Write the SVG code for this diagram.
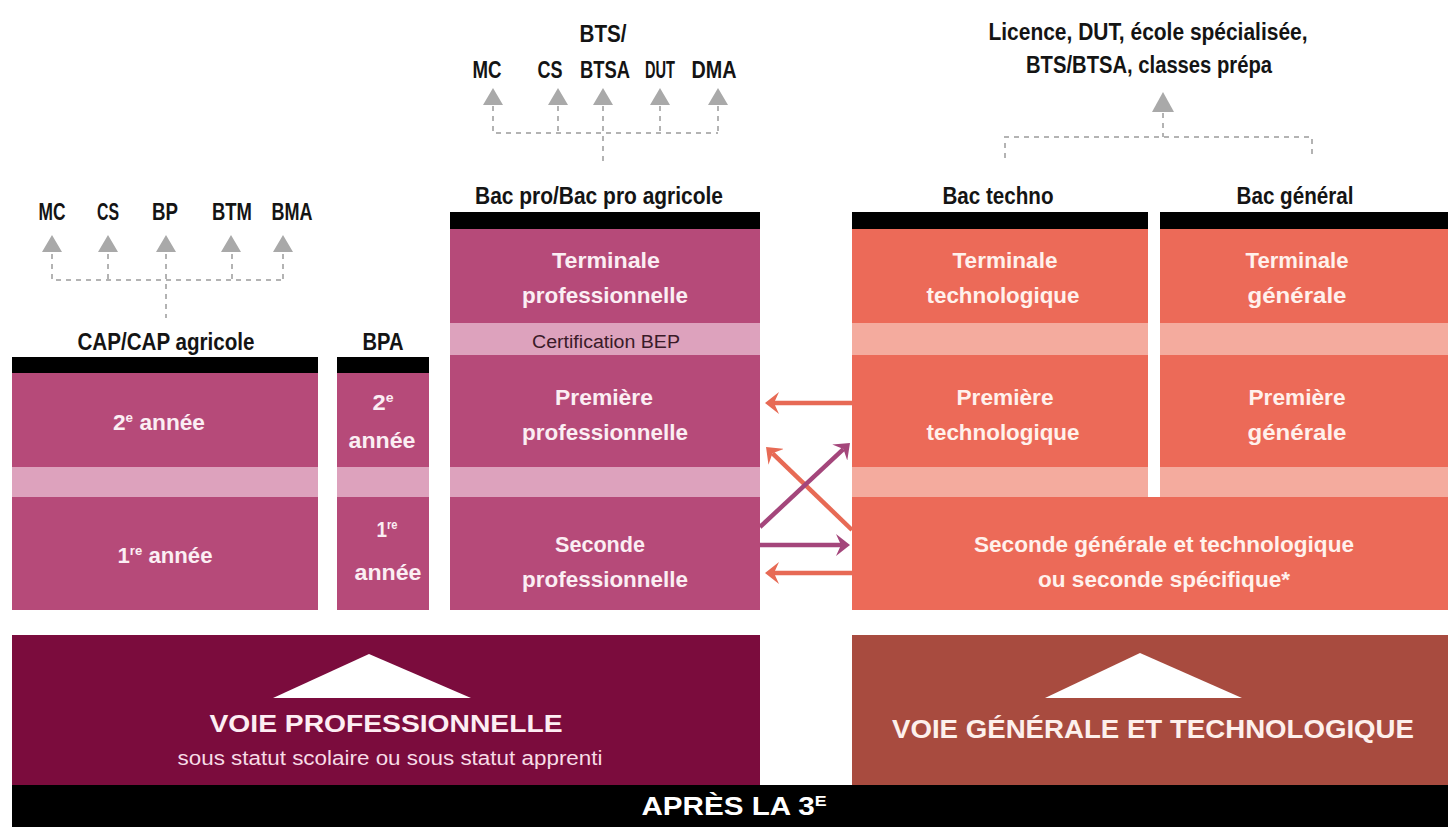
<svg xmlns="http://www.w3.org/2000/svg" width="1448" height="827" viewBox="0 0 1448 827">
<style>
  .t{font-family:"Liberation Sans",Arial,sans-serif;font-weight:bold;text-anchor:middle}
  .n{font-weight:normal}
  .lbl{font-size:23px;fill:#141414}
  .wp{font-size:22px;fill:#fbeef3}
  .wc{font-size:22px;fill:#fff1ec}
  .pink{fill:#b64a79}
  .pband{fill:#dda2bd}
  .coral{fill:#ec6a58}
  .cband{fill:#f4ab9e}
  .bar{fill:#000}
  .dot{fill:none;stroke:#b3b3b3;stroke-width:2;stroke-dasharray:5 5}
  .tri{fill:#a9a9a9}
  .ao{stroke:#e76a55;stroke-width:4.5;fill:none}
  .ap{stroke:#a4467b;stroke-width:4.5;fill:none}
</style>
<defs>
  <marker id="hO" viewBox="0 0 14 22" refX="5" refY="11" markerWidth="14" markerHeight="22" markerUnits="userSpaceOnUse" orient="auto">
    <path d="M0,0 L14,11 L0,22 L5,11 z" fill="#e76a55"/>
  </marker>
  <marker id="hP" viewBox="0 0 14 22" refX="5" refY="11" markerWidth="14" markerHeight="22" markerUnits="userSpaceOnUse" orient="auto">
    <path d="M0,0 L14,11 L0,22 L5,11 z" fill="#a4467b"/>
  </marker>
</defs>
<rect width="1448" height="827" fill="#fff"/>

<!-- Outcomes after CAP -->
<g id="out-cap">
  <text class="t lbl" x="52" y="220" textLength="27" lengthAdjust="spacingAndGlyphs">MC</text>
  <text class="t lbl" x="108" y="220" textLength="22" lengthAdjust="spacingAndGlyphs">CS</text>
  <text class="t lbl" x="165" y="220" textLength="26" lengthAdjust="spacingAndGlyphs">BP</text>
  <text class="t lbl" x="232" y="220" textLength="40" lengthAdjust="spacingAndGlyphs">BTM</text>
  <text class="t lbl" x="292" y="220" textLength="41" lengthAdjust="spacingAndGlyphs">BMA</text>
</g>
<!-- Outcomes after Bac pro -->
<g id="out-bacpro">
  <text class="t lbl" x="603" y="42" textLength="47" lengthAdjust="spacingAndGlyphs">BTS/</text>
  <text class="t lbl" x="487" y="78" textLength="29" lengthAdjust="spacingAndGlyphs">MC</text>
  <text class="t lbl" x="550" y="78" textLength="25" lengthAdjust="spacingAndGlyphs">CS</text>
  <text class="t lbl" x="605" y="78" textLength="50" lengthAdjust="spacingAndGlyphs">BTSA</text>
  <text class="t lbl" x="660" y="78" textLength="30" lengthAdjust="spacingAndGlyphs">DUT</text>
  <text class="t lbl" x="714" y="78" textLength="45" lengthAdjust="spacingAndGlyphs">DMA</text>
</g>
<!-- Outcomes after Bac général / techno -->
<g id="out-bacgt">
  <text class="t lbl" x="1148" y="40" textLength="319" lengthAdjust="spacingAndGlyphs">Licence, DUT, école spécialisée,</text>
  <text class="t lbl" x="1149" y="73" textLength="246" lengthAdjust="spacingAndGlyphs">BTS/BTSA, classes prépa</text>
</g>

<!-- Connectors -->
<g id="connectors">
  <path class="dot" d="M52,254 V280 H283 M108,254 V280 M166,254 V318 M232,254 V280 M283,254 V280"/>
  <path class="tri" d="M52,235 L62,252 L42,252 z M108,235 L118,252 L98,252 z M166,235 L176,252 L156,252 z M231,235 L241,252 L221,252 z M283,235 L293,252 L273,252 z"/>
  <path class="dot" d="M493,106 V133 H718 M558,106 V133 M603,106 V165 M660,106 V133 M718,106 V133"/>
  <path class="tri" d="M493,88 L503,105 L483,105 z M558,88 L568,105 L548,105 z M603,88 L613,105 L593,105 z M660,88 L670,105 L650,105 z M718,88 L728,105 L708,105 z"/>
  <path class="dot" d="M1163,113 V137 M1005,158 V137 H1312 V158"/>
  <path class="tri" d="M1163,92 L1174,112 L1152,112 z"/>
  <line class="ao" x1="852" y1="403" x2="774" y2="403" marker-end="url(#hO)"/>
  <line class="ao" x1="852" y1="530" x2="772.5" y2="453.3" marker-end="url(#hO)"/>
  <line class="ap" x1="760" y1="527" x2="843.4" y2="449.1" marker-end="url(#hP)"/>
  <line class="ap" x1="760" y1="545" x2="841" y2="545" marker-end="url(#hP)"/>
  <line class="ao" x1="852" y1="573" x2="774" y2="573" marker-end="url(#hO)"/>
</g>

<!-- CAP -->
<g id="cap">
  <text class="t lbl" x="166" y="350" textLength="177" lengthAdjust="spacingAndGlyphs">CAP/CAP agricole</text>
  <rect class="bar" x="12" y="357" width="306" height="16"/>
  <rect class="pink" x="12" y="373" width="306" height="94"/>
  <rect class="pband" x="12" y="467" width="306" height="30"/>
  <rect class="pink" x="12" y="497" width="306" height="113"/>
  <text class="t wp" x="159" y="430" textLength="92" lengthAdjust="spacingAndGlyphs">2<tspan font-size="13" dy="-8">e</tspan><tspan dy="8"> année</tspan></text>
  <text class="t wp" x="165" y="563" textLength="95" lengthAdjust="spacingAndGlyphs">1<tspan font-size="13" dy="-8">re</tspan><tspan dy="8"> année</tspan></text>
</g>

<!-- BPA -->
<g id="bpa">
  <text class="t lbl" x="383" y="350" textLength="41" lengthAdjust="spacingAndGlyphs">BPA</text>
  <rect class="bar" x="337" y="357" width="92" height="16"/>
  <rect class="pink" x="337" y="373" width="92" height="94"/>
  <rect class="pband" x="337" y="467" width="92" height="30"/>
  <rect class="pink" x="337" y="497" width="92" height="113"/>
  <text class="t wp" x="383" y="410" textLength="21" lengthAdjust="spacingAndGlyphs">2<tspan font-size="13" dy="-8">e</tspan></text>
  <text class="t wp" x="382" y="448" textLength="67" lengthAdjust="spacingAndGlyphs">année</text>
  <text class="t wp" x="387" y="537" textLength="21" lengthAdjust="spacingAndGlyphs">1<tspan font-size="13" dy="-8">re</tspan></text>
  <text class="t wp" x="388" y="580" textLength="67" lengthAdjust="spacingAndGlyphs">année</text>
</g>

<!-- Bac pro -->
<g id="bacpro">
  <text class="t lbl" x="599" y="204" textLength="248" lengthAdjust="spacingAndGlyphs">Bac pro/Bac pro agricole</text>
  <rect class="bar" x="450" y="212" width="310" height="17"/>
  <rect class="pink" x="450" y="229" width="310" height="94"/>
  <rect class="pband" x="450" y="323" width="310" height="32"/>
  <rect class="pink" x="450" y="355" width="310" height="112"/>
  <rect class="pband" x="450" y="467" width="310" height="30"/>
  <rect class="pink" x="450" y="497" width="310" height="113"/>
  <text class="t wp" x="606" y="268" textLength="108" lengthAdjust="spacingAndGlyphs">Terminale</text>
  <text class="t wp" x="605" y="303" textLength="166" lengthAdjust="spacingAndGlyphs">professionnelle</text>
  <text class="t n" x="606" y="348" font-size="18" fill="#3a1a28" textLength="148" lengthAdjust="spacingAndGlyphs">Certification BEP</text>
  <text class="t wp" x="604" y="405" textLength="98" lengthAdjust="spacingAndGlyphs">Première</text>
  <text class="t wp" x="605" y="440" textLength="166" lengthAdjust="spacingAndGlyphs">professionnelle</text>
  <text class="t wp" x="600" y="552" textLength="90" lengthAdjust="spacingAndGlyphs">Seconde</text>
  <text class="t wp" x="605" y="587" textLength="166" lengthAdjust="spacingAndGlyphs">professionnelle</text>
</g>

<!-- Bac techno -->
<g id="bactechno">
  <text class="t lbl" x="998" y="204" textLength="111" lengthAdjust="spacingAndGlyphs">Bac techno</text>
  <rect class="bar" x="852" y="212" width="296" height="17"/>
  <rect class="coral" x="852" y="229" width="296" height="94"/>
  <rect class="cband" x="852" y="323" width="296" height="32"/>
  <rect class="coral" x="852" y="355" width="296" height="112"/>
  <rect class="cband" x="852" y="467" width="296" height="30"/>
  <text class="t wc" x="1005" y="268" textLength="105" lengthAdjust="spacingAndGlyphs">Terminale</text>
  <text class="t wc" x="1003" y="303" textLength="153" lengthAdjust="spacingAndGlyphs">technologique</text>
  <text class="t wc" x="1005" y="405" textLength="97" lengthAdjust="spacingAndGlyphs">Première</text>
  <text class="t wc" x="1003" y="440" textLength="153" lengthAdjust="spacingAndGlyphs">technologique</text>
</g>

<!-- Bac général -->
<g id="bacgeneral">
  <text class="t lbl" x="1295" y="204" textLength="117" lengthAdjust="spacingAndGlyphs">Bac général</text>
  <rect class="bar" x="1160" y="212" width="288" height="17"/>
  <rect class="coral" x="1160" y="229" width="288" height="94"/>
  <rect class="cband" x="1160" y="323" width="288" height="32"/>
  <rect class="coral" x="1160" y="355" width="288" height="112"/>
  <rect class="cband" x="1160" y="467" width="288" height="30"/>
  <text class="t wc" x="1297" y="268" textLength="103" lengthAdjust="spacingAndGlyphs">Terminale</text>
  <text class="t wc" x="1297" y="303" textLength="99" lengthAdjust="spacingAndGlyphs">générale</text>
  <text class="t wc" x="1297" y="405" textLength="97" lengthAdjust="spacingAndGlyphs">Première</text>
  <text class="t wc" x="1297" y="440" textLength="99" lengthAdjust="spacingAndGlyphs">générale</text>
</g>

<!-- Seconde GT -->
<g id="seconde-gt">
  <rect class="coral" x="852" y="497" width="596" height="113"/>
  <text class="t wc" x="1164" y="552" textLength="380" lengthAdjust="spacingAndGlyphs">Seconde générale et technologique</text>
  <text class="t wc" x="1164" y="587" textLength="252" lengthAdjust="spacingAndGlyphs">ou seconde spécifique*</text>
</g>

<!-- Voie professionnelle -->
<g id="voie-pro">
  <rect x="12" y="635" width="748" height="150" fill="#7b0c3d"/>
  <path d="M369,654 L471,698 L273,698 z" fill="#fff"/>
  <text class="t" x="386" y="732" font-size="24" fill="#fdeef3" textLength="353" lengthAdjust="spacingAndGlyphs">VOIE PROFESSIONNELLE</text>
  <text class="t n" x="390" y="765" font-size="20" fill="#f7dbe6" textLength="425" lengthAdjust="spacingAndGlyphs">sous statut scolaire ou sous statut apprenti</text>
</g>

<!-- Voie générale et technologique -->
<g id="voie-gt">
  <rect x="852" y="635" width="596" height="150" fill="#a84b3f"/>
  <path d="M1140,653 L1242,698 L1045,698 z" fill="#fff"/>
  <text class="t" x="1153" y="738" font-size="25" fill="#fdf0ec" textLength="522" lengthAdjust="spacingAndGlyphs">VOIE GÉNÉRALE ET TECHNOLOGIQUE</text>
</g>

<!-- Après la 3e -->
<g id="apres-3e">
  <rect x="12" y="785" width="1436" height="42" fill="#000"/>
  <text class="t" x="734" y="815" font-size="25" fill="#fff" textLength="185" lengthAdjust="spacingAndGlyphs">APRÈS LA 3<tspan font-size="15" dy="-9">E</tspan></text>
</g>
</svg>
